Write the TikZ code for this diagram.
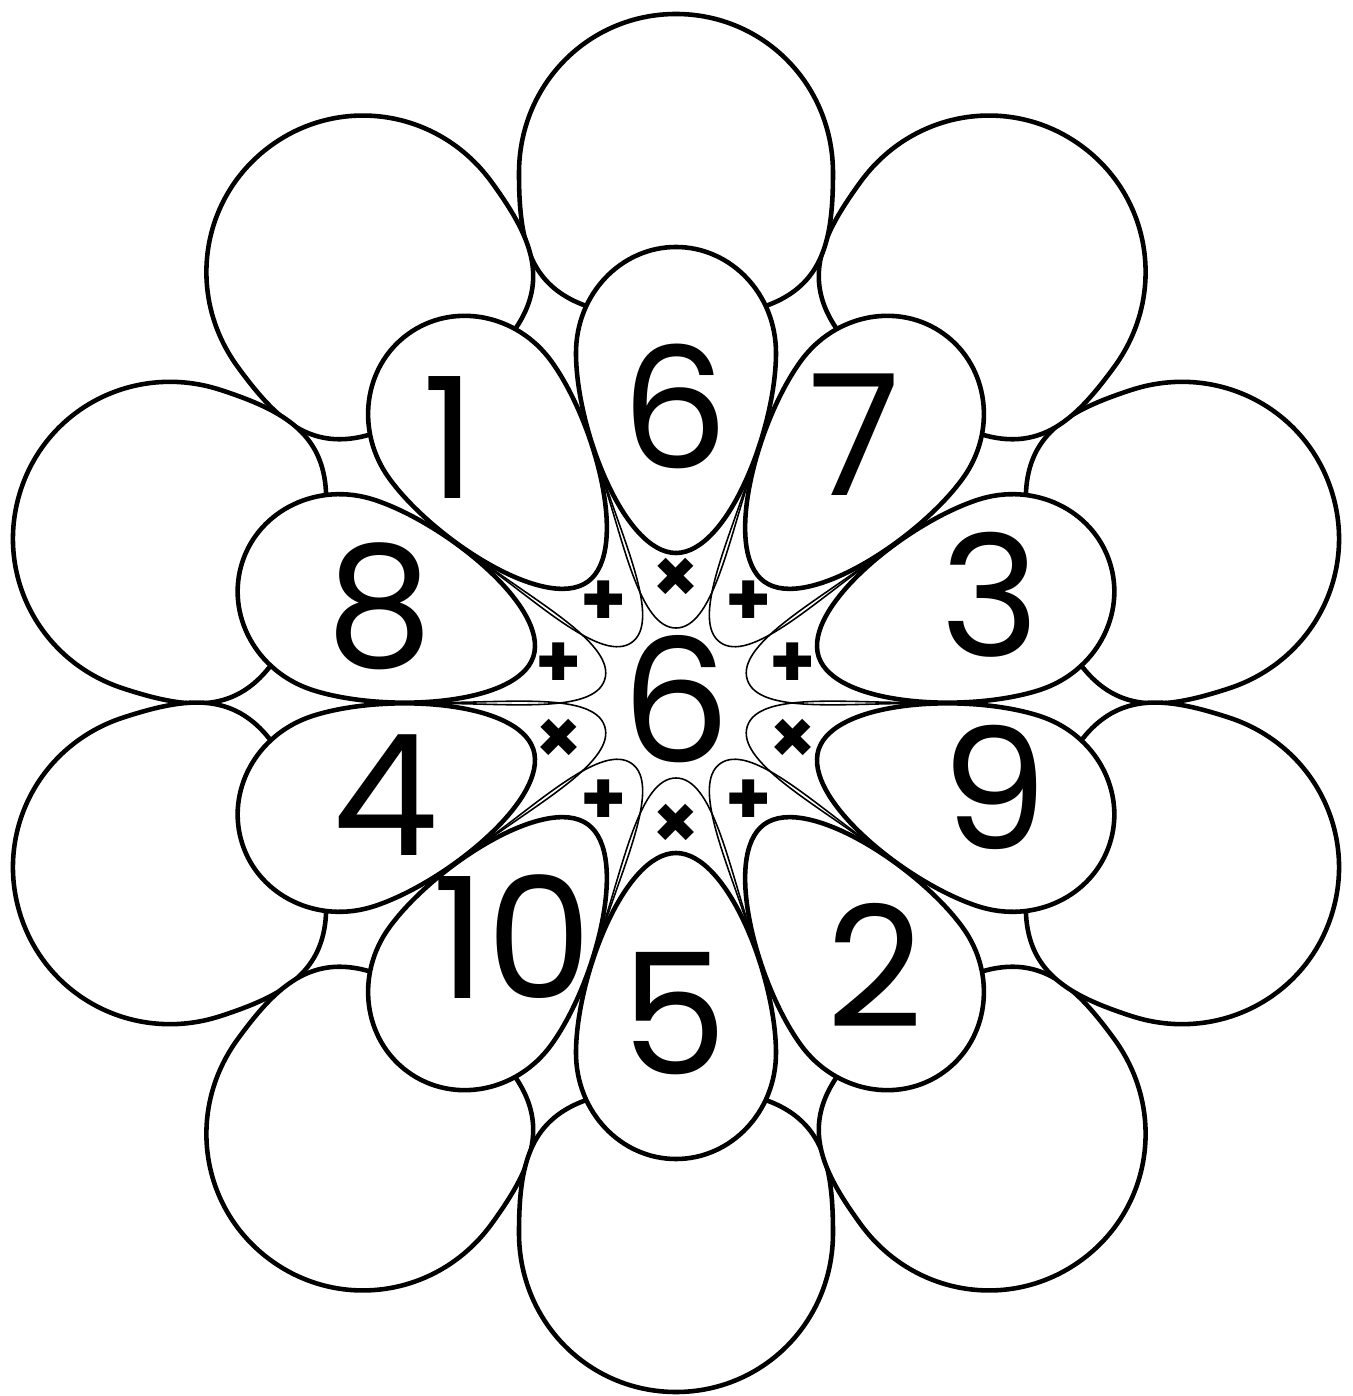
\documentclass[tikz,border=0pt]{standalone}
\usepackage{fontspec}
\setmainfont{Poppins}
\tikzset{
  petalo/.style={draw=black, fill=white, line width=1.3pt, line join=round},
  hilo/.style={draw=black, line width=0.45pt},
  cifra/.style={font=\fontsize{48}{48}\selectfont, inner sep=0pt},
  signo/.style={font=\fontsize{21}{21}\selectfont\bfseries, inner sep=0pt}
}
\begin{document}
\begin{tikzpicture}[x=0.1mm, y=0.1mm]
    % Marco de la figura
    \useasboundingbox[fill=white] (-676,-693) rectangle (676,703);

    % Petalos exteriores (grandes)
    \foreach \a in {18,54,...,342}
        \draw[petalo, rotate=\a] (385,0) .. controls (385,140) and (440,157) .. (530,157)
            .. controls (619,157) and (689,87) .. (689,0)
            .. controls (689,-87) and (619,-157) .. (530,-157)
            .. controls (440,-157) and (385,-140) .. (385,0) -- cycle;

    % Petalos interiores (con cifras)
    \foreach \a in {18,54,...,342}
        \draw[petalo, rotate=\a] (150,0) .. controls (150,52) and (275,100) .. (350,100)
            .. controls (409,100) and (456,55) .. (456,0)
            .. controls (456,-55) and (409,-100) .. (350,-100)
            .. controls (275,-100) and (150,-52) .. (150,0) -- cycle;

    % Lazos finos hacia el centro
    \foreach \a in {18,54,...,342}
        \draw[hilo, rotate=\a] (226,74) .. controls (160,52) and (75,36) .. (75,0)
            .. controls (75,-36) and (160,-52) .. (226,-74);

    % Signos de operacion
    \foreach \a/\s [count=\i] in {90/×, 54/+, 18/+, -18/×, -54/+, -90/×, -126/+, -162/×, 162/+, 126/+}
        \node[signo] (s\i) at (\a:123) {\s};

    % Cifras de los petalos
    \foreach \px/\py/\n [count=\i] in {-1/297/6, 179/268/7, 314/108/3, 319/-84/9, 199/-262/2,
            -2/-311/5, -164/-234/10, -290/-92/4, -296/97/8, -227/265/1}
        \node[cifra] (c\i) at (\px,\py) {\n};

    % Cifra central
    \node[cifra, font=\fontsize{49}{49}\selectfont] (centro) at (0,4) {6};
\end{tikzpicture}
\end{document}
